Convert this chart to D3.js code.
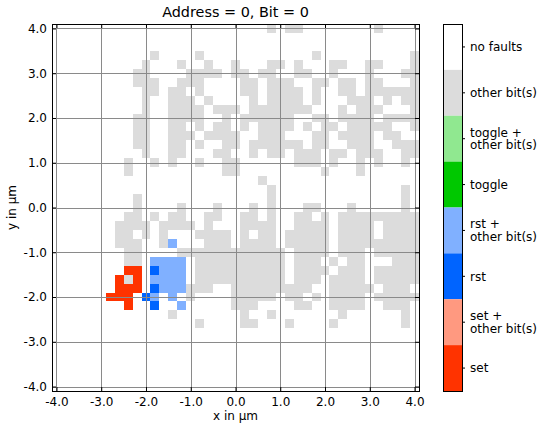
<!DOCTYPE html>
<html><head><meta charset="utf-8">
<script src="https://cdn.jsdelivr.net/npm/d3@7"></script>
<style>body{margin:0;background:#fff} text{font-family:"DejaVu Sans",sans-serif;fill:#000}</style>
</head><body><svg id="c" width="542" height="425"></svg>
<script>
const categories = ["no faults","other bit(s)","toggle +\nother bit(s)","toggle","rst +\nother bit(s)","rst","set +\nother bit(s)","set"];
const categoryColors = ["#ffffff","#dcdcdc","#90e890","#00c800","#80b0ff","#0064ff","#ff9980","#ff3300"];
const tickValues = [-4,-3,-2,-1,0,1,2,3,4];
const xCells = [-4.0,-3.8,-3.6,-3.4,-3.2,-3.0,-2.8,-2.6,-2.4,-2.2,-2.0,-1.8,-1.6,-1.4,-1.2,-1.0,-0.8,-0.6,-0.4,-0.2,0.0,0.2,0.4,0.6,0.8,1.0,1.2,1.4,1.6,1.8,2.0,2.2,2.4,2.6,2.8,3.0,3.2,3.4,3.6,3.8,4.0];
const yCells = [4.0,3.8,3.6,3.4,3.2,3.0,2.8,2.6,2.4,2.2,2.0,1.8,1.6,1.4,1.2,1.0,0.8,0.6,0.4,0.2,0.0,-0.2,-0.4,-0.6,-0.8,-1.0,-1.2,-1.4,-1.6,-1.8,-2.0,-2.2,-2.4,-2.6,-2.8,-3.0,-3.2,-3.4,-3.6,-3.8,-4.0];
// one string per row (y = 4.0 down to -4.0); one digit per column (x = -4.0 .. 4.0); digit = category index
// spaces only group the columns for readability
const faultRows = [
"000000 00000 00000 00000 00010 11000 00000 10000",
"000000 00000 00000 00000 00000 00000 00000 00000",
"000000 00000 00000 00000 00000 00000 00000 00000",
"000000 00000 10000 10000 00000 00010 00000 00001",
"000000 00001 00010 01001 00011 01000 11001 10001",
"000000 00011 00001 11101 10110 01100 10001 00011",
"000000 00011 10011 10000 11011 10011 01101 10001",
"000000 00001 10110 10000 11011 11010 01101 11111",
"000000 00001 00111 01000 01011 11010 00111 01011",
"000000 00001 00111 10111 01111 11100 01011 10001",
"000000 00011 00111 10010 11111 10011 01111 01111",
"000000 00011 00110 10110 10111 10101 10111 11001",
"000000 00011 00111 01111 00111 00011 01111 01100",
"000000 00011 00110 10011 01111 11011 00111 00111",
"000000 00001 00110 00110 01011 01110 11011 10011",
"000000 00100 10100 10011 00000 01110 10010 10010",
"000000 00100 00000 00011 00000 00001 00010 00000",
"000000 00000 00000 00000 00100 00000 00000 00000",
"000000 00000 00000 00000 00010 00000 00000 00010",
"000000 00010 00000 00000 00010 00000 00000 00010",
"000000 00010 00010 00100 01010 00110 00100 00010",
"000000 00110 10110 01100 11010 01101 01111 11111",
"000000 01111 01111 01000 11110 01111 01111 01111",
"000000 01101 01000 11110 10110 11111 01111 01111",
"000000 01110 01400 01110 11110 11111 01111 11111",
"000000 00110 00011 11111 11111 01111 01110 11111",
"000000 00110 44440 11111 11111 01110 10110 00111",
"000000 00770 54440 11111 11111 01111 01110 11111",
"000000 07170 44440 11111 11111 01110 11110 11111",
"000000 07770 54441 11001 11111 11100 11111 01110",
"000000 77705 40401 00001 11110 11010 11110 11111",
"000000 00700 50040 00001 11000 01100 11110 01110",
"000000 00000 00100 00000 10010 00000 01000 00010",
"000000 00000 00000 10000 11000 10000 10000 00010",
"000000 00000 00000 00000 00000 00000 00000 00000",
"000000 00000 00000 00000 00000 00000 00000 00000",
"000000 00000 00000 00000 00000 00000 00000 00000",
"000000 00000 00000 00000 00000 00000 00000 00000",
"000000 00000 00000 00000 00000 00000 00000 00000",
"000000 00000 00000 00000 00000 00000 00000 00000",
"000000 00000 00000 00000 00000 00000 00000 00000"
];

const svg = d3.select("#c");
const L = 52, T = 24, S = 367;
const x = d3.scaleLinear().domain([-4.1, 4.1]).range([L, L + S]);
const y = d3.scaleLinear().domain([-4.1, 4.1]).range([T + S, T]);
const color = d3.scaleOrdinal().domain(d3.range(categories.length)).range(categoryColors);
const half = 0.1;

const cells = [];
faultRows.forEach((rowText, r) => {
  const row = rowText.replace(/ /g, "");
  for (let c = 0; c < row.length; c++) {
    const v = +row[c];
    if (v > 0) cells.push({ x: xCells[c], y: yCells[r], v });
  }
});

svg.append("g").attr("shape-rendering", "crispEdges")
  .selectAll("rect").data(cells).join("rect")
  .attr("x", d => x(d.x - half))
  .attr("y", d => y(d.y + half))
  .attr("width", d => x(d.x + half) - x(d.x - half))
  .attr("height", d => y(d.y - half) - y(d.y + half))
  .attr("fill", d => color(d.v));

// grid
const grid = svg.append("g").attr("stroke", "#8a8a8a").attr("stroke-width", 1).attr("shape-rendering", "crispEdges");
grid.selectAll("line.v").data(tickValues).join("line").attr("class", "v")
  .attr("x1", d => Math.round(x(d)) + 0.5).attr("x2", d => Math.round(x(d)) + 0.5)
  .attr("y1", T).attr("y2", T + S);
grid.selectAll("line.h").data(tickValues).join("line").attr("class", "h")
  .attr("y1", d => Math.round(y(d)) + 0.5).attr("y2", d => Math.round(y(d)) + 0.5)
  .attr("x1", L).attr("x2", L + S);

const fmt = d => d.toFixed(1);
const axB = svg.append("g").attr("transform", `translate(0,${T + S})`)
  .call(d3.axisBottom(x).tickValues(tickValues).tickFormat(fmt).tickSizeInner(-4).tickSizeOuter(0).tickPadding(6));
const axT = svg.append("g").attr("transform", `translate(0,${T})`)
  .call(d3.axisTop(x).tickValues(tickValues).tickFormat("").tickSizeInner(-4).tickSizeOuter(0));
const axL = svg.append("g").attr("transform", `translate(${L},0)`)
  .call(d3.axisLeft(y).tickValues(tickValues).tickFormat(fmt).tickSizeInner(-4).tickSizeOuter(0).tickPadding(5));
const axR = svg.append("g").attr("transform", `translate(${L + S},0)`)
  .call(d3.axisRight(y).tickValues(tickValues).tickFormat("").tickSizeInner(-4).tickSizeOuter(0));
[axB, axT, axL, axR].forEach(a => {
  a.select(".domain").remove();
  a.selectAll("text").attr("font-size", 12).attr("font-family", "DejaVu Sans").attr("fill", "#000");
  a.selectAll("line").attr("stroke", "#000");
});
svg.append("rect").attr("x", L + 0.5).attr("y", T + 0.5).attr("width", S).attr("height", S)
  .attr("fill", "none").attr("stroke", "#000").attr("stroke-width", 1);

// titles
svg.append("text").attr("x", L + S / 2).attr("y", 17).attr("text-anchor", "middle")
  .attr("font-size", 14.4).text("Address = 0, Bit = 0");
svg.append("text").attr("x", L + S / 2).attr("y", 420).attr("text-anchor", "middle")
  .attr("font-size", 12).text("x in µm");
svg.append("text").attr("transform", `translate(16,${T + S / 2}) rotate(-90)`).attr("text-anchor", "middle")
  .attr("font-size", 12).text("y in µm");

// colorbar
const CX = 443, CW = 19;
const cb = d3.scaleBand().domain(d3.range(categories.length)).range([T, T + S]).paddingInner(0).paddingOuter(0);
const cbg = svg.append("g");
cbg.selectAll("rect").data(d3.range(categories.length)).join("rect")
  .attr("x", CX).attr("y", d => cb(d)).attr("width", CW).attr("height", cb.bandwidth())
  .attr("fill", d => color(d));
cbg.append("rect").attr("x", CX + 0.5).attr("y", T + 0.5).attr("width", CW).attr("height", S)
  .attr("fill", "none").attr("stroke", "#000");
const labels = cbg.selectAll("g.lab").data(d3.range(categories.length)).join("g").attr("class", "lab")
  .attr("transform", d => `translate(${CX + CW},${cb(d) + cb.bandwidth() / 2})`);
labels.append("line").attr("x1", 0.5).attr("x2", 3).attr("stroke", "#000");
labels.each(function (d) {
  const lines = categories[d].split("\n");
  const g = d3.select(this);
  const lh = 12.8;
  lines.forEach((t, i) => {
    g.append("text").attr("x", 8).attr("y", (i - (lines.length - 1) / 2) * lh).attr("dy", "0.35em")
      .attr("font-size", 12).text(t);
  });
});
</script></body></html>
